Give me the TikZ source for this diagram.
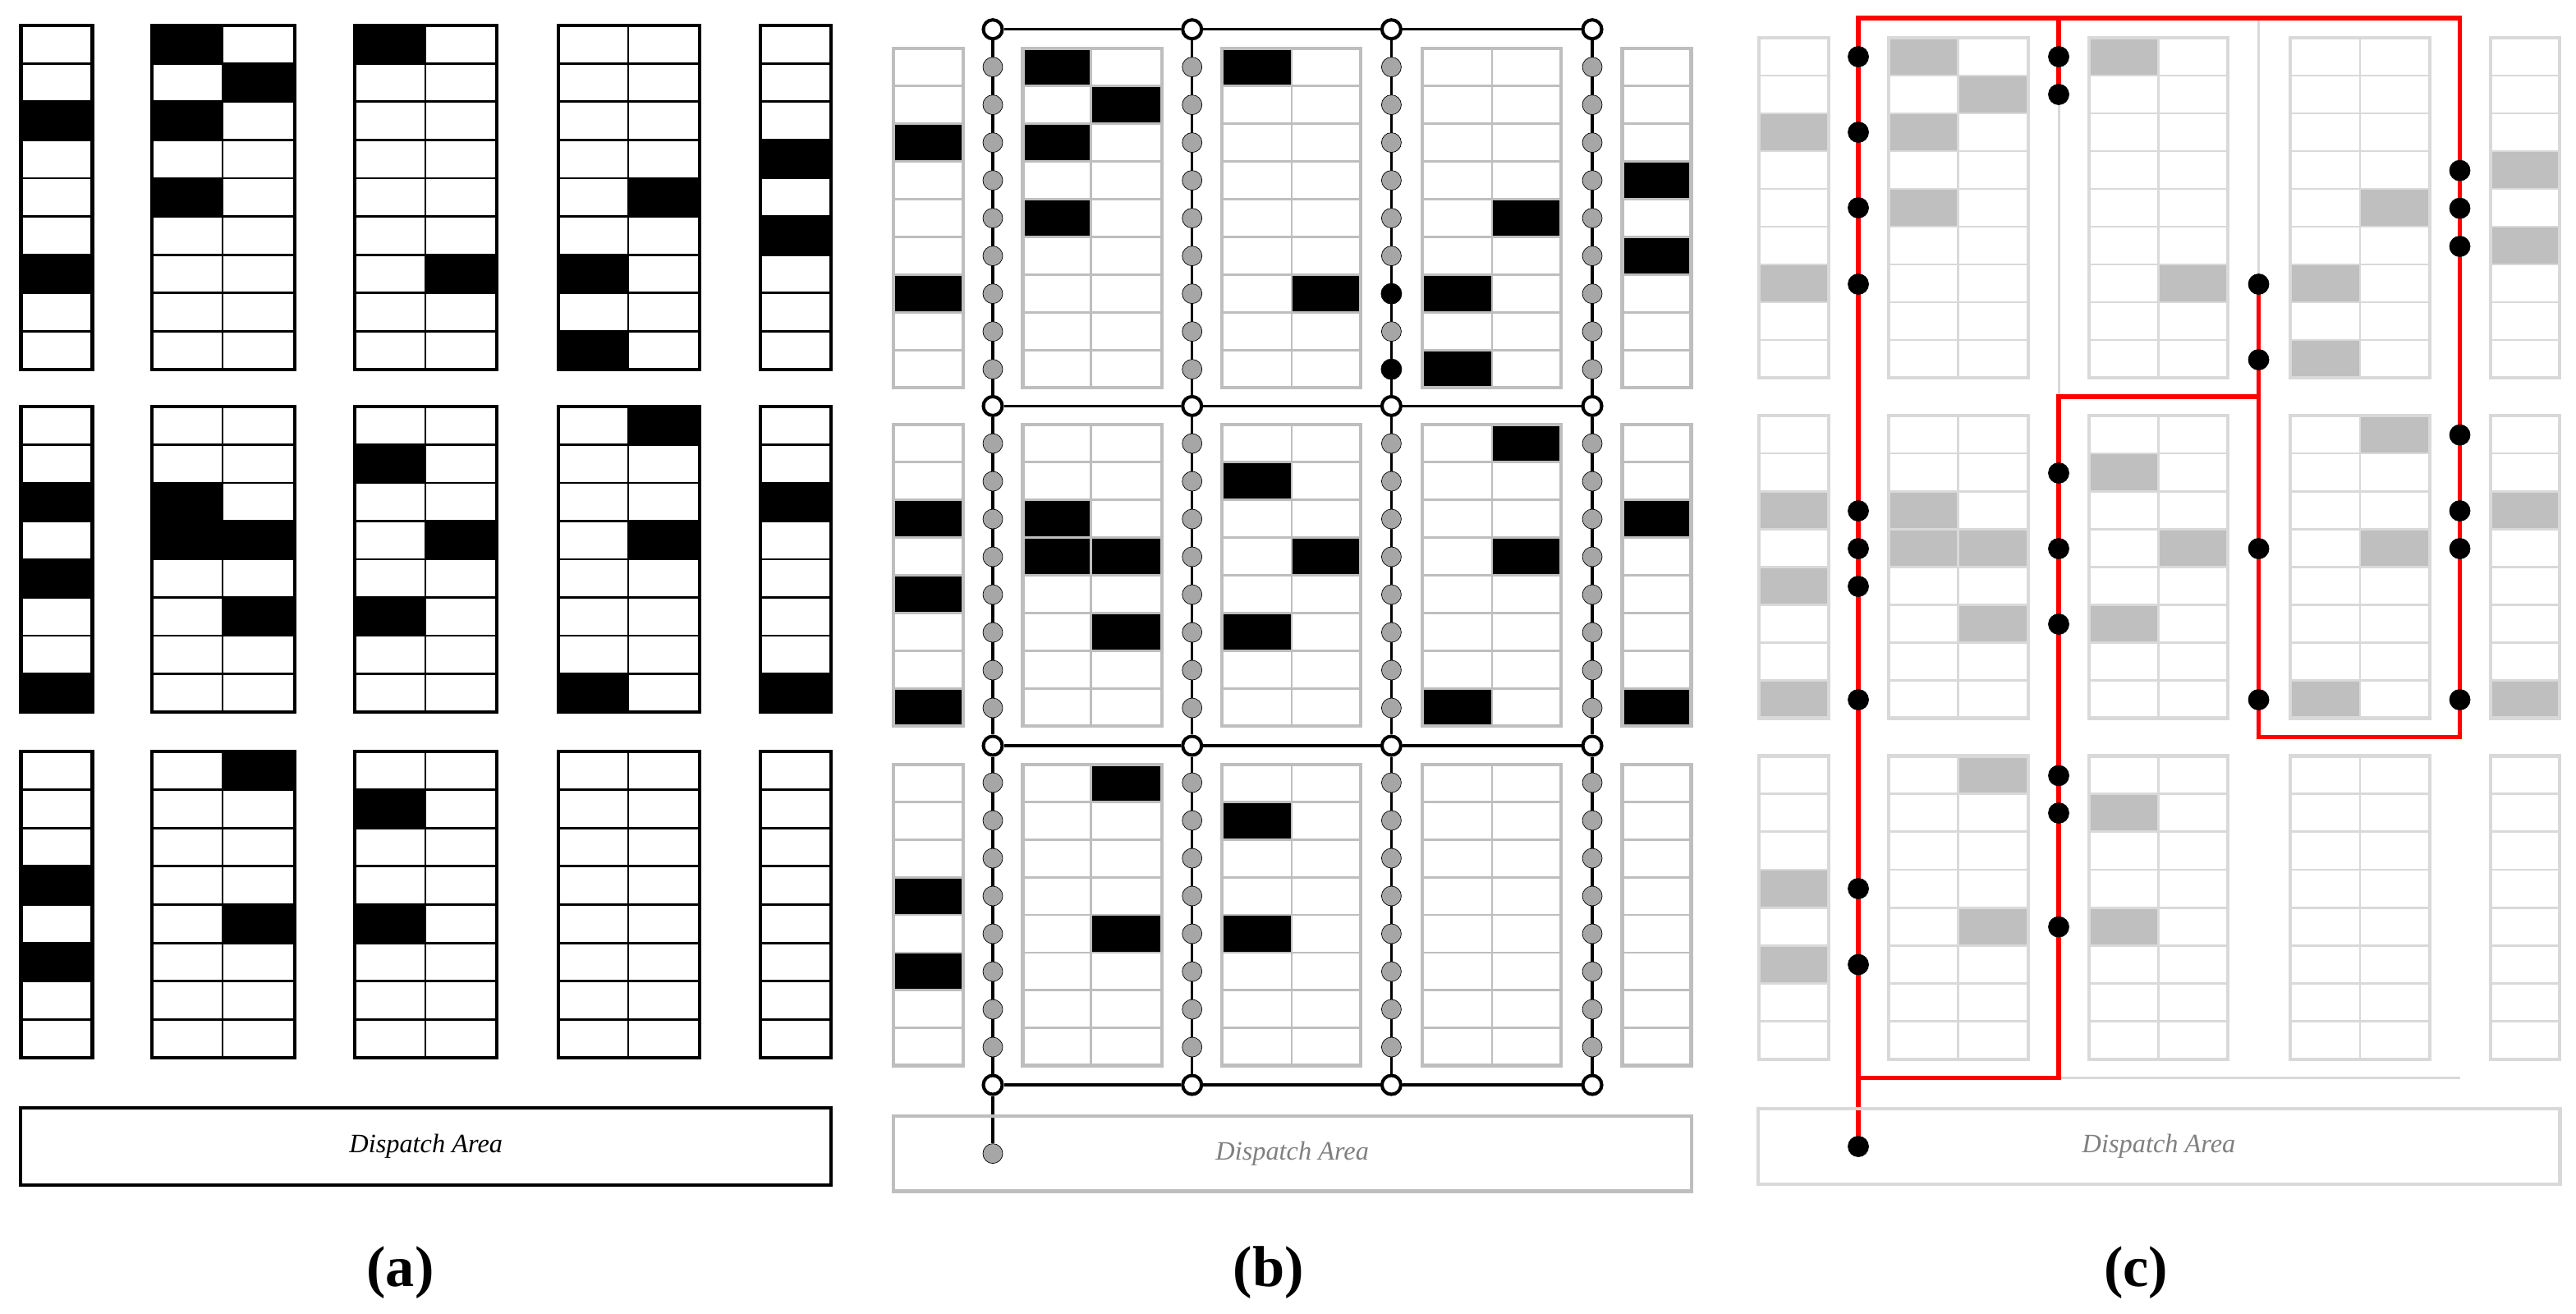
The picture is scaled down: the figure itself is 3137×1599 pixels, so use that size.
\documentclass[tikz,border=0pt]{standalone}
\usepackage{fontspec}
\setmainfont{Liberation Serif}
\usetikzlibrary{backgrounds}
\definecolor{rackB}{HTML}{BEBEBE}
\definecolor{rackC}{HTML}{D9D9D9}
\definecolor{fillC}{HTML}{BFBFBF}
\definecolor{dotgrey}{HTML}{A6A6A6}
\definecolor{labgrey}{HTML}{808080}
\tikzset{
  outerline/.style={line width=1.2pt,line join=miter,line cap=rect},
  innerline/.style={line width=0.8pt},
  dispatchbox/.style={draw,outerline,rectangle,inner sep=0pt,outer sep=0pt,font=\fontsize{9.2}{11}\selectfont\itshape},
  panellabel/.style={inner sep=0pt,font=\fontsize{20}{24}\selectfont\bfseries},
  greydot/.style={circle,inner sep=0pt,minimum size=0.24cm,fill=dotgrey,draw=black,line width=0.2pt},
  blackdot/.style={circle,inner sep=0pt,minimum size=0.25cm,fill=black,draw=black,line width=0.2pt},
  crossnode/.style={circle,inner sep=0pt,minimum size=0.23cm,fill=white,draw=black,line width=1.15pt},
  aisleline/.style={draw=black,line width=0.95pt},
  redroute/.style={draw=red,line width=1.45pt,line join=miter},
  fadedroute/.style={draw=rackC,line width=0.85pt}
}
\def\BN{{9,8,8}}
\def\cellsfilled{0/0/3,0/0/7,0/1/1,0/1/3,0/1/5,0/2/2,0/3/1,0/4/7,0/5/7,0/5/9,0/6/5,0/7/4,0/7/6,
1/0/3,1/0/5,1/0/8,1/1/3,1/1/4,1/2/4,1/2/6,1/3/2,1/3/6,1/4/4,1/5/8,1/6/1,1/6/4,1/7/3,1/7/8,
2/0/4,2/0/6,2/2/1,2/2/5,2/3/2,2/3/5}
% #1 fill colour of stored cells, #2 line colour of racks
\newcommand{\racks}[2]{%
  \foreach \blk/\cc/\rr in \cellsfilled {
    \pgfmathsetmacro\xl{\XL[\cc]}
    \pgfmathsetmacro\xr{\XR[\cc]}
    \pgfmathsetmacro\ytop{\BT[\blk]}
    \pgfmathsetmacro\ybot{\BB[\blk]}
    \pgfmathsetmacro\nn{\BN[\blk]}
    \pgfmathsetmacro\hh{(\ybot-\ytop)/\nn}
    \fill[#1] (\xl,\ytop+\hh*\rr-\hh) rectangle (\xr,\ytop+\hh*\rr);
  }
  \foreach \blk in {0,1,2} {
    \pgfmathsetmacro\ytop{\BT[\blk]}
    \pgfmathsetmacro\ybot{\BB[\blk]}
    \pgfmathtruncatemacro\nn{\BN[\blk]}
    \pgfmathtruncatemacro\nm{\nn-1}
    \pgfmathsetmacro\hh{(\ybot-\ytop)/\nn}
    \foreach \ca/\cb in {0/0,1/2,3/4,5/6,7/7} {
      \pgfmathsetmacro\xl{\XL[\ca]}
      \pgfmathsetmacro\xr{\XR[\cb]}
      \foreach \k in {1,...,\nm} {
        \draw[#2,innerline] (\xl,\ytop+\hh*\k) -- (\xr,\ytop+\hh*\k);
      }
      \ifnum\ca=\cb\else
        \pgfmathsetmacro\xm{\XR[\ca]}
        \draw[#2,innerline] (\xm,\ytop) -- (\xm,\ybot);
      \fi
      \draw[#2,outerline] (\xl,\ytop) rectangle (\xr,\ybot);
    }
  }
}
\begin{document}
\begin{tikzpicture}[x=0.01cm,y=-0.01cm]
\useasboundingbox (0,0) rectangle (3137,1599);
% ---------- panel (b) nodes
\foreach \i/\ax in {1/1209,2/1451.7,3/1694.4,4/1939} {
  \foreach \j/\ay in {1/35.7,2/494.4,3/908,4/1321} {
    \node[crossnode] (bj-\i-\j) at (\ax,\ay) {};
  }
  \foreach \blk/\yo/\nn in {1/81.6/9,2/540/8,3/953/8} {
    \foreach \r in {1,...,\nn} {
      \pgfmathtruncatemacro\isblack{and(\i==3,and(\blk==1,or(\r==7,\r==9)))}
      \ifnum\isblack=1 \def\st{blackdot}\else\def\st{greydot}\fi
      \node[\st] (bd-\i-\blk-\r) at (\ax,\yo+46*\r-46) {};
    }
  }
}
\node[greydot] (bbot) at (1209,1404.6) {};
% ---------- panel (c) nodes
\foreach \i/\ax in {1/2263,2/2507,3/2750.5,4/2995.5} {
  \foreach \j/\ay in {1/22,2/483,3/897.4,4/1312.8} {
    \coordinate (cj-\i-\j) at (\ax,\ay);
  }
}
\foreach \n/\ay in {a/69,b/161,c/253,d/346,e/622,f/668,g/714,h/852,i/1082,j/1174.5}
  \node[blackdot] (c1\n) at (2263,\ay) {};
\foreach \n/\ay in {a/69,b/115,c/576,d/668,e/760,f/944.4,g/990,h/1128.6}
  \node[blackdot] (c2\n) at (2507,\ay) {};
\foreach \n/\ay in {a/346,b/438,c/668,d/852}
  \node[blackdot] (c3\n) at (2750.5,\ay) {};
\foreach \n/\ay in {a/207.6,b/253.6,c/300,d/529.6,e/622,f/668,g/852}
  \node[blackdot] (c4\n) at (2995.5,\ay) {};
\node[blackdot] (cbot) at (2263,1396) {};
% ---------- dispatch areas and labels
\node[dispatchbox,minimum width=9.865cm,minimum height=0.945cm] (adisp) at (518.75,1396) {Dispatch Area};
\node[dispatchbox,rackB,text=labgrey,minimum width=9.714cm,minimum height=0.918cm] (bdisp) at (1573.7,1404.6) {Dispatch Area};
\node[dispatchbox,rackC,text=labgrey,minimum width=9.762cm,minimum height=0.92cm] (cdisp) at (2629,1396) {Dispatch Area};
\node[panellabel] (alab) at (487.5,1550) {(a)};
\node[panellabel] (blab) at (1544.7,1550) {(b)};
\node[panellabel] (clab) at (2601,1550) {(c)};
\begin{pgfonlayer}{background}
  \fill[white] (0,0) rectangle (3137,1599);
  % panel (a)
  \def\XL{{25.5,185,271,432,518,680,765,926}}
  \def\XR{{112.5,271,359,518,605,765,852,1012}}
  \def\BT{{30.6,495,915}}
  \def\BB{{450,867,1288}}
  \racks{black}{black}
  % panel (b)
  \def\XL{{1088,1245.4,1328.7,1488,1573,1732,1817,1975.4}}
  \def\XR{{1172.6,1328.7,1414.6,1573,1657,1817,1901,2059.4}}
  \def\BT{{58.7,517,930.6}}
  \def\BB{{472,884,1297.5}}
  \racks{black}{rackB}
  % panel (c)
  \def\XL{{2142,2300,2384.4,2543.6,2628.7,2789,2874,3033}}
  \def\XR{{2227,2384.4,2470,2628.7,2713,2874,2959,3117}}
  \def\BT{{46,506,920.4}}
  \def\BB{{460,874.5,1290}}
  \racks{fillC}{rackC}
  % panel (b) aisles
  \foreach \i in {1,2,3,4} {
    \foreach \j/\k in {1/2,2/3,3/4} {
      \draw[aisleline] (bj-\i-\j) -- (bj-\i-\k);
    }
  }
  \foreach \j in {1,2,3,4} {
    \foreach \i/\k in {1/2,2/3,3/4} {
      \draw[aisleline] (bj-\i-\j) -- (bj-\k-\j);
    }
  }
  \draw[aisleline] (bj-1-4) -- (bbot);
  % panel (c) unused aisles
  \draw[fadedroute] (c2b) -- (cj-2-2);
  \draw[fadedroute] (cj-3-1) -- (c3a);
  \draw[fadedroute] (cj-2-4) -- (cj-4-4);
  % panel (c) route
  \draw[redroute] (cbot.center) -- (cj-1-1) -- (cj-4-1) -- (cj-4-3) -- (cj-3-3) -- (c3a.center);
  \draw[redroute] (cj-2-1) -- (c2b.center);
  \draw[redroute] (cj-3-2) -- (cj-2-2) -- (cj-2-4) -- (cj-1-4);
\end{pgfonlayer}
\end{tikzpicture}
\end{document}
